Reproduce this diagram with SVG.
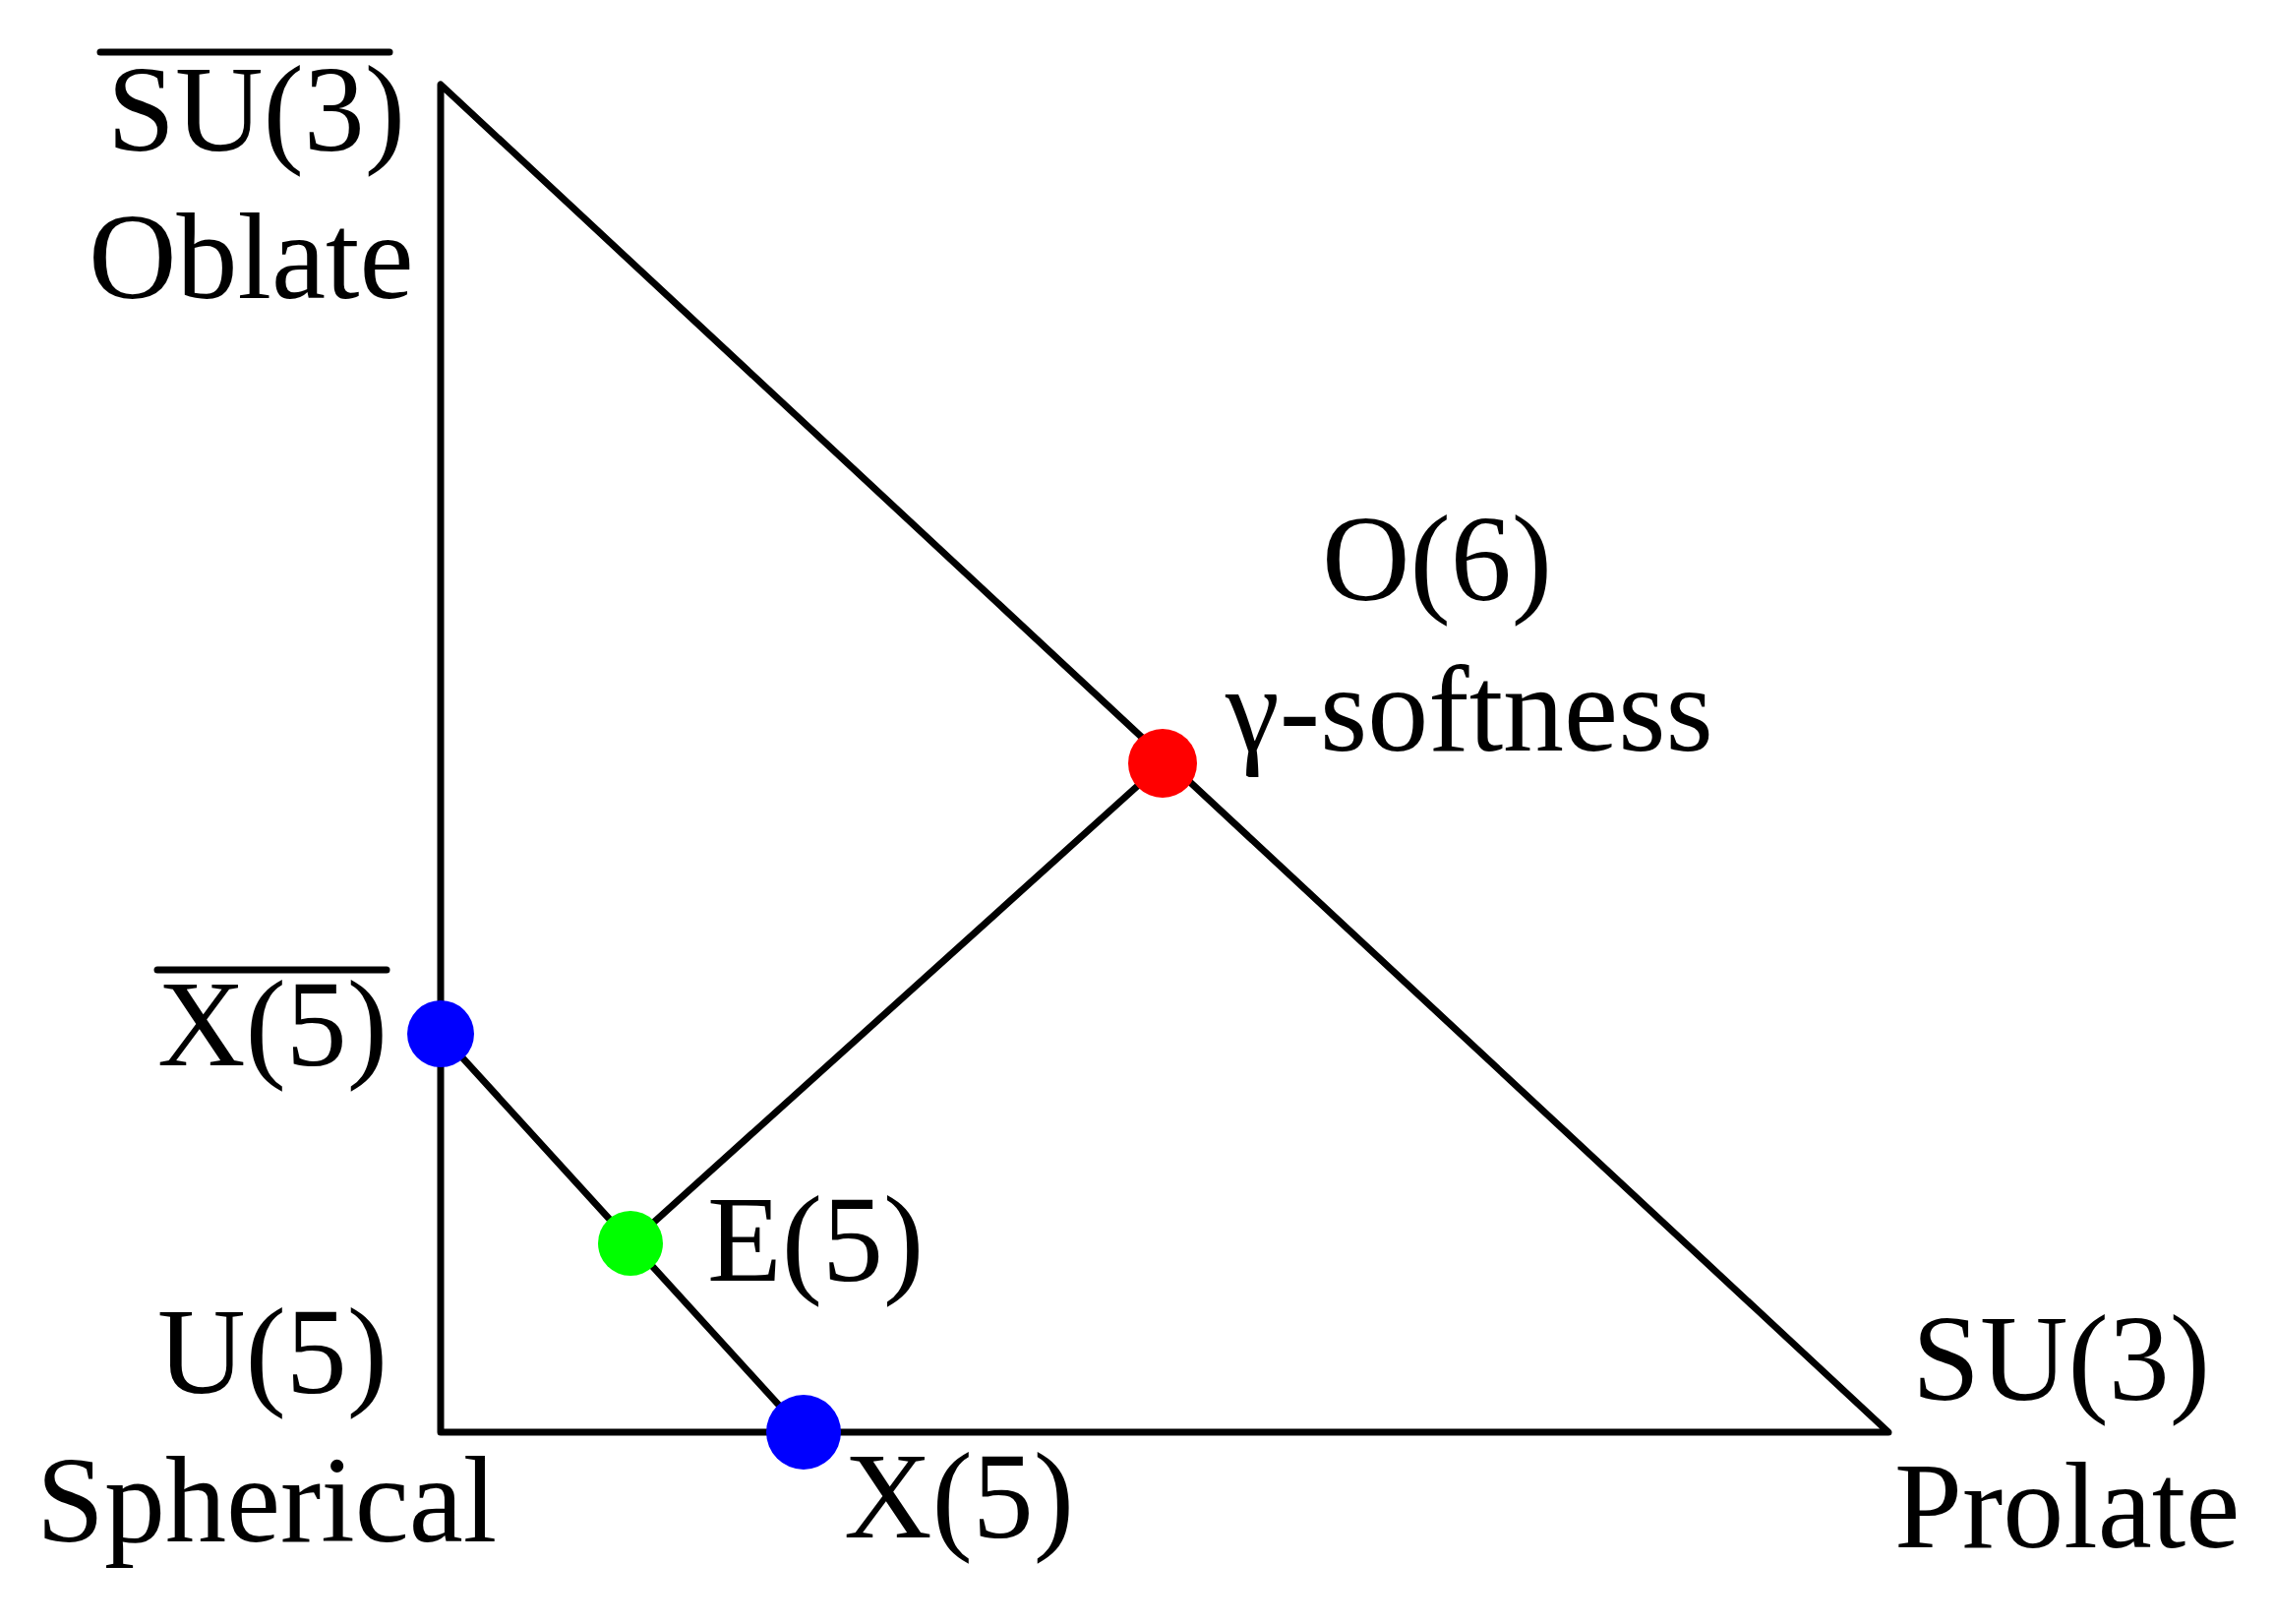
<svg xmlns="http://www.w3.org/2000/svg" width="2313" height="1651" viewBox="0 0 2313 1651">
<style>
text{font-family:"Liberation Serif","Times New Roman",serif;font-size:124px;fill:#000}
.ln{stroke:#000;stroke-width:7;fill:none;stroke-linecap:round;stroke-linejoin:round}
</style>
<rect width="2313" height="1651" fill="#fff"/>
<g id="connectors">
<path class="ln" d="M448,86 L448,1456 L1920,1456 Z"/>
<path class="ln" d="M448,1051 L817,1456"/>
<path class="ln" d="M641,1264 L1182,776"/>
</g>
<g id="su3bar"><line class="ln" x1="102" y1="53" x2="396" y2="53"/><text x="109" y="153">SU(3)</text><text x="90" y="303">Oblate</text></g>
<g id="o6"><circle cx="1182" cy="776" r="35" fill="#ff0000"/><text x="1344" y="610">O(6)</text><text x="1246" y="763">γ-softness</text></g>
<g id="x5bar"><circle cx="448" cy="1051" r="34" fill="#0000ff"/><line class="ln" x1="160" y1="986" x2="393" y2="986"/><text x="160" y="1083">X(5)</text></g>
<g id="e5"><circle cx="641" cy="1264" r="33" fill="#00ff00"/><text x="719" y="1302">E(5)</text></g>
<g id="u5"><text x="160" y="1416">U(5)</text><text x="37" y="1567">Spherical</text></g>
<g id="x5"><circle cx="817" cy="1456" r="38" fill="#0000ff"/><text x="858" y="1563">X(5)</text></g>
<g id="su3"><text x="1944" y="1423">SU(3)</text><text x="1926" y="1573">Prolate</text></g>
</svg>
